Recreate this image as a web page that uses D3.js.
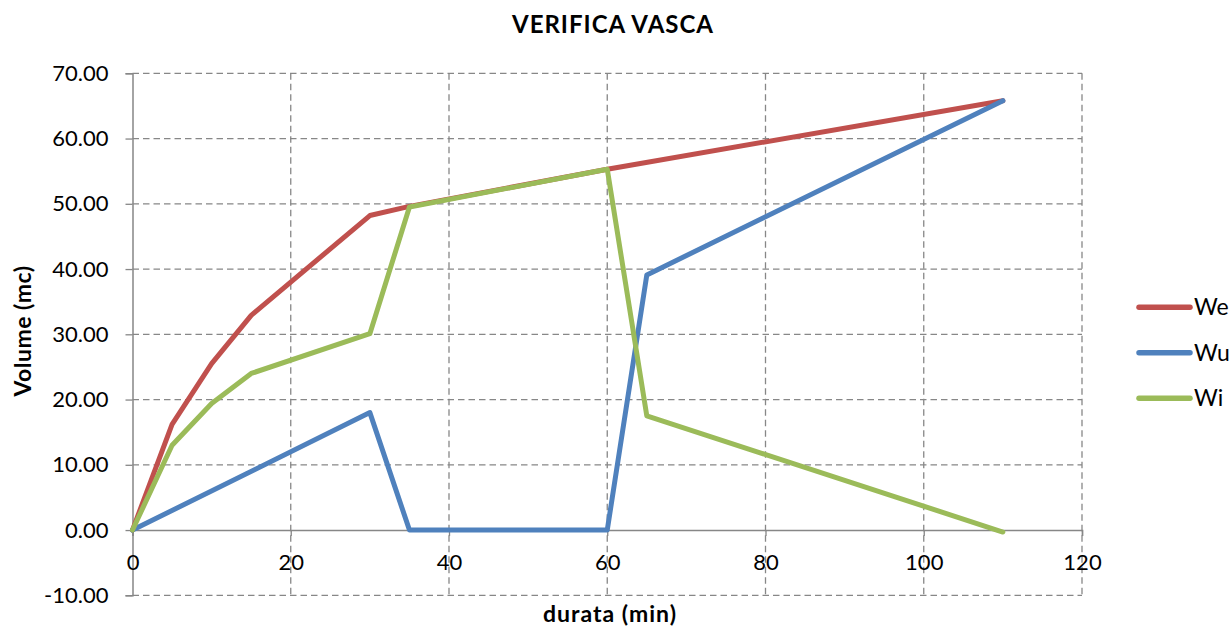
<!DOCTYPE html>
<html>
<head>
<meta charset="utf-8">
<script src="https://cdn.jsdelivr.net/npm/d3@7"></script>
<style>
  html, body { margin: 0; padding: 0; background: #fff; }
  svg { display: block; font-family: Lato, "Open Sans", "DejaVu Sans", sans-serif; }
</style>
</head>
<body>
<svg id="chart" width="1230" height="626"></svg>
<script>
// Durations (min) and volumes (mc) for each series
const weTime = [0, 5, 10, 15, 30, 35, 60, 110];
const weVol  = [0, 16.2, 25.5, 32.9, 48.2, 49.6, 55.3, 65.8];

const wuTime = [0, 30, 35, 60, 65, 110];
const wuVol  = [0, 18.0, 0, 0, 39.1, 65.8];

const wiTime = [0, 5, 10, 15, 30, 35, 60, 65, 110];
const wiVol  = [0, 13.0, 19.4, 24.0, 30.1, 49.5, 55.3, 17.5, -0.3];

const seriesNames = ["We", "Wu", "Wi"];
const seriesColors = ["#C0504D", "#4F81BD", "#9BBB59"];

const xTicks = [0, 20, 40, 60, 80, 100, 120];
const yTicks = [-10, 0, 10, 20, 30, 40, 50, 60, 70];

const svg = d3.select("#chart");

const x = d3.scaleLinear().domain([0, 120]).range([132.5, 1082]);
const y = d3.scaleLinear().domain([-10, 70]).range([595.3, 73.3]);

const gridColor = "#878787";
const fmt2 = d => d3.format(".2f")(d).replace("\u2212", "-");

// Horizontal dashed grid
svg.append("g")
  .selectAll("line")
  .data(yTicks.filter(v => v !== 0))
  .join("line")
  .attr("x1", x(0)).attr("x2", x(120))
  .attr("y1", d => y(d)).attr("y2", d => y(d))
  .attr("stroke", gridColor).attr("stroke-width", 1.3)
  .attr("stroke-dasharray", "6.5,4");

// Vertical dashed grid
svg.append("g")
  .selectAll("line")
  .data(xTicks.filter(v => v !== 0))
  .join("line")
  .attr("x1", d => x(d)).attr("x2", d => x(d))
  .attr("y1", y(70)).attr("y2", y(-10))
  .attr("stroke", gridColor).attr("stroke-width", 1.3)
  .attr("stroke-dasharray", "6.5,4");

// Y axis (left) with outward ticks
const yAxis = d3.axisLeft(y).tickValues(yTicks).tickSize(7).tickFormat(fmt2);
const gy = svg.append("g").attr("transform", `translate(${x(0)},0)`).call(yAxis);
gy.select(".domain").attr("stroke", gridColor).attr("stroke-width", 1.5);
gy.selectAll(".tick line").attr("stroke", gridColor).attr("stroke-width", 1.3);
gy.selectAll(".tick text")
  .attr("fill", "#000").attr("font-size", 22).attr("x", -24)
  .attr("font-family", "Lato, 'Open Sans', sans-serif");

// X axis along zero line
const xAxis = d3.axisBottom(x).tickValues(xTicks).tickSize(6).tickFormat(d3.format("d"));
const gx = svg.append("g").attr("transform", `translate(0,${y(0)})`).call(xAxis);
gx.select(".domain").attr("stroke", gridColor).attr("stroke-width", 1.5);
gx.selectAll(".tick line").attr("stroke", gridColor).attr("stroke-width", 1.3);
gx.selectAll(".tick text")
  .attr("fill", "#000").attr("font-size", 22).attr("y", 40).attr("dy", 0)
  .attr("font-family", "Lato, 'Open Sans', sans-serif");

// Series lines
const line = d3.line().x(d => x(d[0])).y(d => y(d[1]));
const series = [
  d3.zip(weTime, weVol),
  d3.zip(wuTime, wuVol),
  d3.zip(wiTime, wiVol)
];
svg.append("g")
  .selectAll("path")
  .data(series)
  .join("path")
  .attr("d", line)
  .attr("fill", "none")
  .attr("stroke", (d, i) => seriesColors[i])
  .attr("stroke-width", 5)
  .attr("stroke-linejoin", "round")
  .attr("stroke-linecap", "round");

// Title
svg.append("text")
  .attr("x", 613).attr("y", 33)
  .attr("text-anchor", "middle")
  .attr("font-size", 24).attr("font-weight", "bold")
  .attr("letter-spacing", 1)
  .text("VERIFICA VASCA");

// Axis titles
svg.append("text")
  .attr("x", 610).attr("y", 622)
  .attr("text-anchor", "middle")
  .attr("font-size", 23).attr("font-weight", "bold")
  .attr("letter-spacing", 1)
  .text("durata (min)");

svg.append("text")
  .attr("transform", "translate(31,331) rotate(-90)")
  .attr("text-anchor", "middle")
  .attr("font-size", 23).attr("font-weight", "bold")
  .attr("letter-spacing", 0.5)
  .text("Volume (mc)");

// Legend
const legend = svg.append("g")
  .selectAll("g")
  .data(seriesNames)
  .join("g")
  .attr("transform", (d, i) => `translate(1139,${307.3 + i * 45.5})`);
legend.append("line")
  .attr("x1", 0).attr("x2", 51)
  .attr("stroke", (d, i) => seriesColors[i])
  .attr("stroke-width", 5.5)
  .attr("stroke-linecap", "round");
legend.append("text")
  .attr("x", 55).attr("y", 8)
  .attr("font-size", 23)
  .text(d => d);
</script>
</body>
</html>
